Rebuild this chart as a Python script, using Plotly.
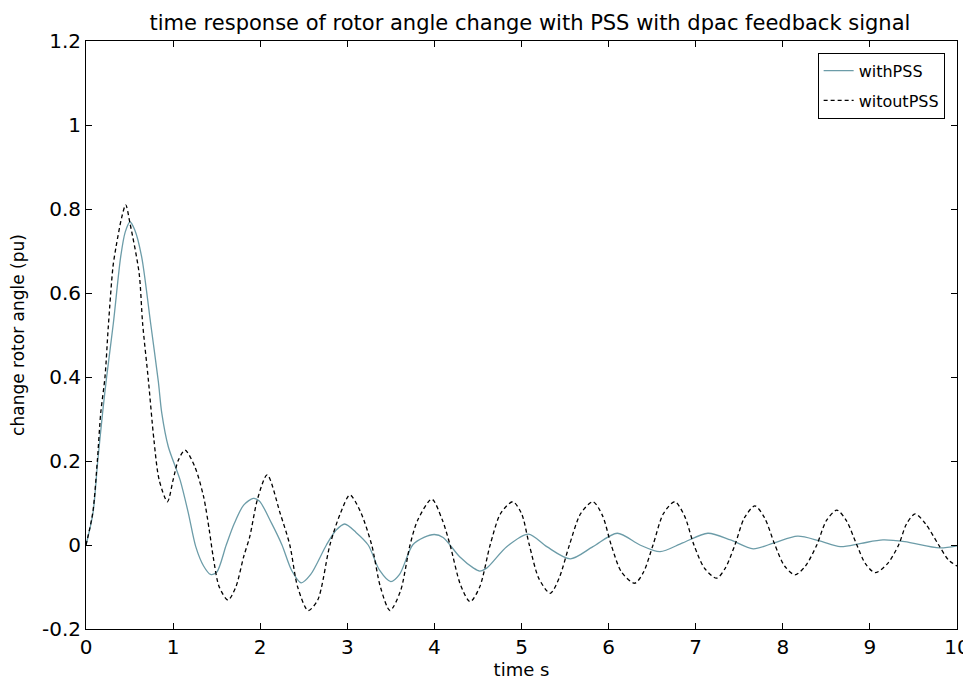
import plotly.graph_objects as go

# withPSS (solid)
t_with = [0, 0.08, 0.135, 0.19, 0.237, 0.314, 0.398, 0.45, 0.505, 0.56, 0.639, 0.742, 0.83, 0.87,
          0.945, 1.08, 1.175, 1.26, 1.35, 1.43, 1.5, 1.61, 1.7, 1.81, 1.92, 1.99, 2.13, 2.25, 2.36,
          2.47, 2.58, 2.76, 2.87, 2.97, 3.1, 3.24, 3.37, 3.5, 3.6, 3.75, 3.88, 4.0, 4.1, 4.29, 4.45,
          4.52, 4.6, 4.83, 5.08, 5.29, 5.56, 5.82, 6.1, 6.36, 6.59, 6.85, 7.14, 7.4, 7.66, 7.9,
          8.17, 8.42, 8.66, 8.9, 9.15, 9.4, 9.8, 10.0]
y_with = [0, 0.076, 0.2, 0.314, 0.4, 0.528, 0.686, 0.745, 0.769, 0.75, 0.686, 0.528, 0.39, 0.314,
          0.234, 0.155, 0.076, -0.004, -0.05, -0.07, -0.065, 0.0, 0.05, 0.095, 0.111, 0.105, 0.052,
          0.0, -0.06, -0.09, -0.07, 0.0, 0.035, 0.05, 0.03, 0.0, -0.06, -0.087, -0.07, 0.0, 0.018,
          0.025, 0.018, -0.028, -0.055, -0.062, -0.055, -0.004, 0.026, -0.004, -0.033, -0.004, 0.028,
          0.0, -0.016, 0.005, 0.028, 0.012, -0.009, 0.005, 0.021, 0.01, -0.004, 0.004, 0.012, 0.008,
          -0.007, -0.002]

# witoutPSS (dashed)
t_without = [0, 0.077, 0.13, 0.169, 0.218, 0.256, 0.31, 0.345, 0.41, 0.456, 0.505, 0.61, 0.65, 0.716,
             0.78, 0.84, 0.935, 1.0, 1.06, 1.137, 1.25, 1.35, 1.415, 1.46, 1.53, 1.63, 1.72, 1.81,
             1.88, 1.97, 2.08, 2.23, 2.34, 2.43, 2.55, 2.66, 2.8, 2.92, 3.03, 3.15, 3.28, 3.38, 3.49,
             3.61, 3.72, 3.81, 3.97, 4.09, 4.18, 4.3, 4.41, 4.52, 4.64, 4.76, 4.9, 5.0, 5.09, 5.2,
             5.33, 5.43, 5.55, 5.68, 5.82, 5.93, 6.03, 6.15, 6.3, 6.4, 6.51, 6.63, 6.76, 6.87, 6.98,
             7.1, 7.24, 7.34, 7.45, 7.56, 7.68, 7.79, 7.91, 8.02, 8.14, 8.26, 8.39, 8.5, 8.62, 8.73,
             8.85, 8.95, 9.06, 9.2, 9.33, 9.42, 9.52, 9.64, 9.79, 9.9, 10.0]
y_without = [0, 0.076, 0.2, 0.314, 0.4, 0.52, 0.663, 0.71, 0.78, 0.81, 0.766, 0.647, 0.528, 0.393,
             0.25, 0.155, 0.103, 0.155, 0.202, 0.226, 0.186, 0.115, 0.036, -0.028, -0.1, -0.131, -0.1,
             -0.028, 0.02, 0.11, 0.167, 0.075, 0.0, -0.1, -0.156, -0.131, 0.0, 0.075, 0.119, 0.08, 0.0,
             -0.1, -0.156, -0.11, 0.0, 0.06, 0.109, 0.06, 0.0, -0.095, -0.135, -0.1, 0.0, 0.075, 0.103,
             0.075, 0.0, -0.08, -0.115, -0.08, 0.0, 0.075, 0.103, 0.07, 0.0, -0.065, -0.091, -0.065,
             0.0, 0.075, 0.103, 0.07, 0.0, -0.055, -0.079, -0.055, 0.0, 0.065, 0.093, 0.065, 0.0,
             -0.05, -0.071, -0.05, 0.0, 0.058, 0.083, 0.058, 0.0, -0.045, -0.066, -0.045, 0.0, 0.05,
             0.074, 0.05, 0.0, -0.035, -0.05]

x_ticks = [0, 1, 2, 3, 4, 5, 6, 7, 8, 9, 10]
x_tick_labels = ["0", "1", "2", "3", "4", "5", "6", "7", "8", "9", "10"]
y_ticks = [-0.2, 0, 0.2, 0.4, 0.6, 0.8, 1.0, 1.2]
y_tick_labels = ["-0.2", "0", "0.2", "0.4", "0.6", "0.8", "1", "1.2"]

FONT = "DejaVu Sans"

fig = go.Figure()
fig.add_trace(go.Scatter(x=t_with, y=y_with, mode="lines", name="withPSS", legendgroup="a",
                         line=dict(color="rgb(108,156,168)", width=1.3, shape="spline", smoothing=0.8)))
fig.add_trace(go.Scatter(x=t_without, y=y_without, mode="lines", name="witoutPSS", legendgroup="b",
                         line=dict(color="black", width=1.3, dash="4px,3px", shape="spline", smoothing=0.8)))

axis_common = dict(showline=True, linecolor="black", linewidth=1, mirror="allticks",
                   ticks="inside", ticklen=6, tickcolor="black", showgrid=False, zeroline=False,
                   automargin=False,
                   tickfont=dict(family=FONT, size=20, color="black"))

# page body has an 8px default margin, so the figure is sized to fill the 971x686 window
fig.update_layout(
    width=963, height=678,
    margin=dict(l=78, r=14, t=33, b=57),
    paper_bgcolor="white", plot_bgcolor="white",
    title=dict(text="time response of rotor angle change with PSS with dpac feedback signal",
               x=0.542, xanchor="center", y=0.979, yanchor="middle",
               font=dict(family=FONT, size=21, color="black")),
    xaxis=dict(range=[0, 10], tickvals=x_ticks, ticktext=x_tick_labels,
               title=dict(text="time s", standoff=2, font=dict(family=FONT, size=18, color="black")),
               **axis_common),
    yaxis=dict(range=[-0.2, 1.2], tickvals=y_ticks, ticktext=y_tick_labels,
               title=dict(text="change rotor angle (pu)", standoff=14,
                          font=dict(family=FONT, size=17, color="black")),
               **axis_common),
    legend=dict(x=0.84, y=0.98, xanchor="left", yanchor="top", bgcolor="white",
                bordercolor="black", borderwidth=1, itemwidth=30,
                traceorder="grouped", tracegroupgap=6,
                font=dict(family=FONT, size=16, color="black")),
    showlegend=True,
)

fig.write_html("out.html")
